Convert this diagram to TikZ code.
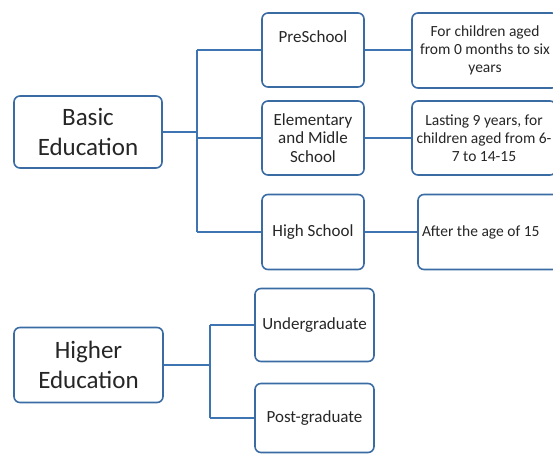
\documentclass[tikz,border=0pt]{standalone}
\usepackage{fontspec}
\setmainfont{Carlito}
\usepackage{tikz}
\usepackage{xcolor}
\usetikzlibrary{positioning,calc}
\definecolor{BoxBlue}{HTML}{3A6CA3}
\definecolor{LineBlue}{HTML}{3F74B3}
\definecolor{Ink}{HTML}{262626}

\tikzset{
  levelbox/.style={draw=BoxBlue,line width=1.6pt,rounded corners=6pt,fill=white,
    align=center,text=Ink,inner sep=2pt},
  bigbox/.style={levelbox,font=\fontsize{25}{29.5}\selectfont},
  midbox/.style={levelbox,font=\fontsize{17}{18.5}\selectfont},
  smallbox/.style={levelbox,font=\fontsize{15.5}{18}\selectfont},
  link/.style={LineBlue,line width=1.4pt}
}

\begin{document}
\begin{tikzpicture}[x=1pt,y=-1pt]
  \useasboundingbox (0,0) rectangle (553,454);

  \node[bigbox,minimum width=148pt,minimum height=72pt] (basic) at (88,132) {Basic\\Education};
  \node[midbox,minimum width=102pt,minimum height=74pt] (pre) at (313,50) {PreSchool\\[8pt]~};
  \node[midbox,minimum width=102pt,minimum height=74pt] (elem) at (313,138) {Elementary\\and Midle\\School};
  \node[midbox,minimum width=102pt,minimum height=75pt] (high) at (313,232) {High School};
  \node[smallbox,minimum width=146pt,minimum height=75pt] (kids) at (485,50.5) {For children aged\\from 0 months to six\\years};
  \node[smallbox,minimum width=144pt,minimum height=74pt] (last) at (484,138) {Lasting 9 years, for\\children aged from 6-\\7 to 14-15};
  \node[smallbox,minimum width=142pt,minimum height=75pt,text width=134pt,align=flush left] (after) at (489,232) {After the age of 15};

  \node[bigbox,minimum width=149pt,minimum height=75pt] (higher) at (88.5,365) {Higher\\Education};
  \node[midbox,minimum width=119pt,minimum height=73pt] (under) at (314.5,325) {Undergraduate};
  \node[midbox,minimum width=119pt,minimum height=69pt] (post) at (314.5,418) {Post-graduate};

  \coordinate (bsplit) at (197,132);
  \coordinate (hsplit) at (210,365);

  \draw[link] (basic.east) -- (bsplit);
  \draw[link] (bsplit |- pre.west) -- (bsplit |- high.west);
  \draw[link] (bsplit |- pre.west) -- (pre.west);
  \draw[link] (bsplit |- elem.west) -- (elem.west);
  \draw[link] (bsplit |- high.west) -- (high.west);
  \draw[link] (pre.east) -- (pre.east -| kids.west);
  \draw[link] (elem.east) -- (elem.east -| last.west);
  \draw[link] (high.east) -- (high.east -| after.west);

  \draw[link] (higher.east) -- (hsplit);
  \draw[link] (hsplit |- under.west) -- (hsplit |- post.west);
  \draw[link] (hsplit |- under.west) -- (under.west);
  \draw[link] (hsplit |- post.west) -- (post.west);
\end{tikzpicture}
\end{document}
